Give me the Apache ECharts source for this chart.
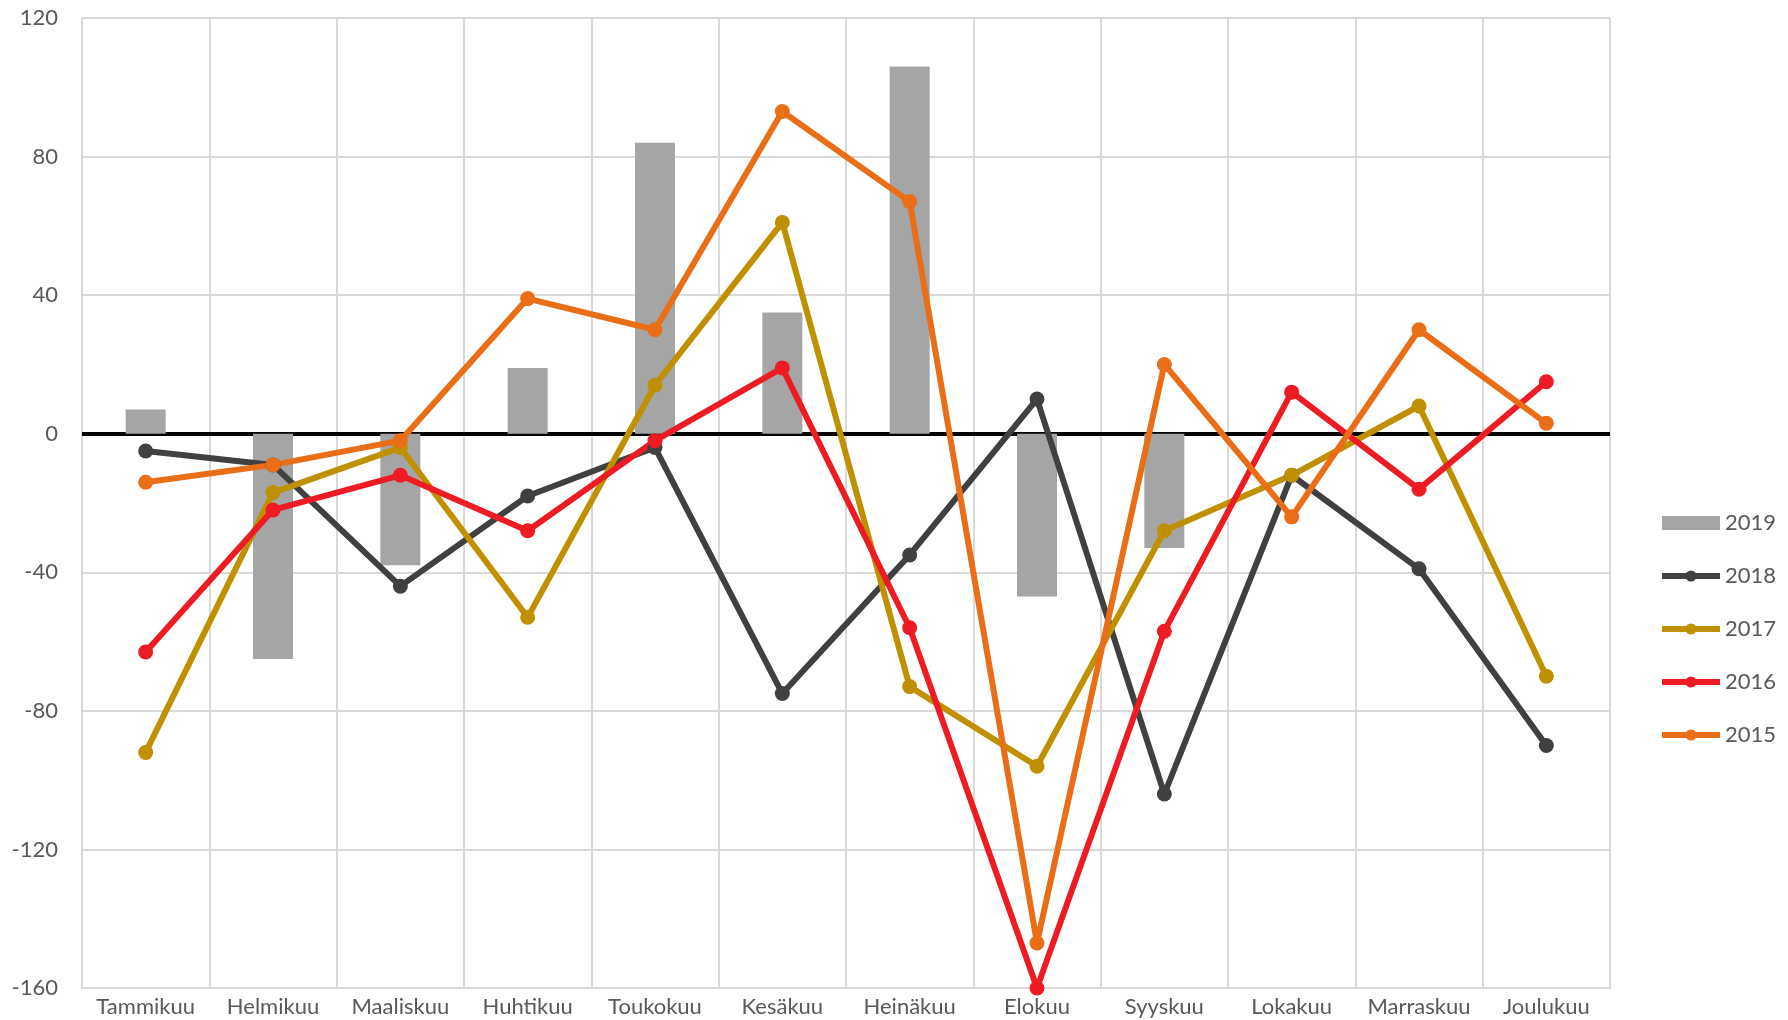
<!DOCTYPE html>
<html>
<head>
<meta charset="utf-8">
<script src="https://cdn.jsdelivr.net/npm/echarts@6/dist/echarts.min.js"></script>
<style>
html,body{margin:0;padding:0;background:#fff;}
#main{width:1788px;height:1020px;}
</style>
</head>
<body>
<div id="main"></div>
<script>
var months = ['Tammikuu','Helmikuu','Maaliskuu','Huhtikuu','Toukokuu','Kesäkuu','Heinäkuu','Elokuu','Syyskuu','Lokakuu','Marraskuu','Joulukuu'];
var yTicks = [-160, -120, -80, -40, 0, 40, 80, 120];

var v2019 = [7, -65, -38, 19, 84, 35, 106, -47, -33, null, null, null];
var v2018 = [-5, -9, -44, -18, -4, -75, -35, 10, -104, -12, -39, -90];
var v2017 = [-92, -17, -4, -53, 14, 61, -73, -96, -28, -12, 8, -70];
var v2016 = [-63, -22, -12, -28, -2, 19, -56, -160, -57, 12, -16, 15];
var v2015 = [-14, -9, -2, 39, 30, 93, 67, -147, 20, -24, 30, 3];

var txt = '#595959';
var font = 'Lato';

function lineSeries(name, data, color) {
    return {
        name: name,
        type: 'line',
        data: data,
        symbol: 'circle',
        symbolSize: 15,
        lineStyle: {color: color, width: 6},
        itemStyle: {color: color},
        z: 3
    };
}

var chart = echarts.init(document.getElementById('main'));
chart.setOption({
    animation: false,
    textStyle: {fontFamily: font},
    grid: {left: 82, right: 178, top: 18, bottom: 32},
    legend: {
        orient: 'vertical',
        left: 1654,
        top: 507,
        itemWidth: 58,
        itemHeight: 14,
        itemGap: 31,
        lineStyle: {width: 6},
        textStyle: {color: txt, fontSize: 22, fontFamily: font},
        data: [
            {name: '2019', icon: 'rect'},
            '2018', '2017', '2016', '2015'
        ]
    },
    xAxis: {
        type: 'category',
        data: months,
        axisLine: {show: true, onZero: false, lineStyle: {color: '#d9d9d9', width: 2}},
        axisTick: {show: false},
        axisLabel: {color: txt, fontSize: 22, margin: 8, interval: 0},
        splitLine: {show: true, lineStyle: {color: '#d9d9d9', width: 2}}
    },
    yAxis: {
        type: 'value',
        min: yTicks[0],
        max: yTicks[yTicks.length - 1],
        interval: 40,
        axisLine: {show: false},
        axisTick: {show: false},
        axisLabel: {color: txt, fontSize: 22, margin: 24},
        splitLine: {lineStyle: {color: '#d9d9d9', width: 2}}
    },
    series: [
        {
            name: '2019',
            type: 'bar',
            data: v2019,
            barWidth: 40,
            itemStyle: {color: '#a5a5a5'},
            markLine: {
                silent: true,
                symbol: 'none',
                label: {show: false},
                lineStyle: {color: '#000', width: 4, type: 'solid'},
                data: [{yAxis: 0}],
                z: 2
            }
        },
        lineSeries('2018', v2018, '#404040'),
        lineSeries('2017', v2017, '#bf9000'),
        lineSeries('2016', v2016, '#ed1c24'),
        lineSeries('2015', v2015, '#e96e17')
    ]
});
</script>
</body>
</html>
